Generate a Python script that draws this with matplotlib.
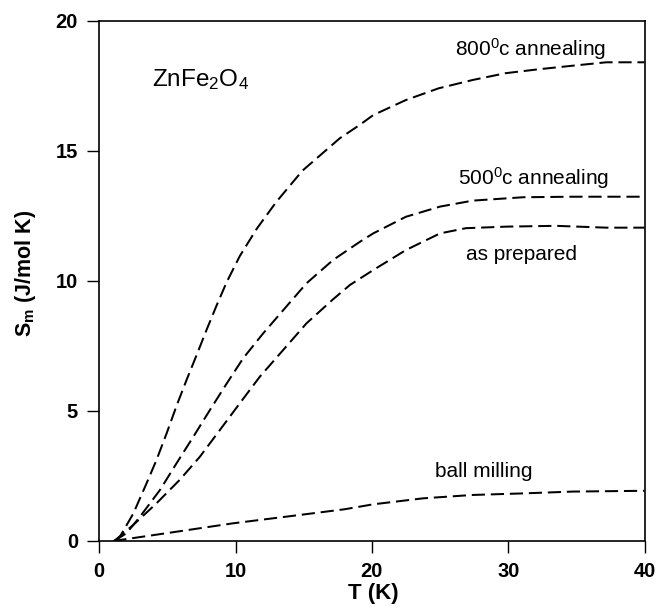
import matplotlib
matplotlib.use("Agg")
import matplotlib.pyplot as plt

plt.rcParams['font.family'] = ['Liberation Sans', 'DejaVu Sans']
plt.rcParams['mathtext.fontset'] = 'custom'
plt.rcParams['mathtext.rm'] = 'Liberation Sans'
plt.rcParams['mathtext.it'] = 'Liberation Sans:italic'
plt.rcParams['mathtext.bf'] = 'Liberation Sans:bold'
plt.rcParams['lines.scale_dashes'] = False

# ---- data ----
T_800 = [1.15, 1.52, 2.5, 3.47, 4.2, 4.94, 5.67, 6.4, 7.14, 7.87, 8.6, 9.34, 10.3,
         11.54, 13.0, 14.9, 17.65, 19.1, 20.1, 22.5, 24.9, 27.4, 29.8, 32.2, 34.75, 37.2, 40]
S_800 = [0, 0.17, 1.06, 2.22, 3.12, 4.14, 5.2, 6.19, 7.15, 8.12, 9.05, 9.95, 10.95,
         12.0, 13.05, 14.24, 15.49, 16.0, 16.38, 16.96, 17.41, 17.73, 17.99, 18.14, 18.28, 18.41, 18.41]

T_500 = [1.1, 2.0, 2.98, 4.45, 5.67, 6.9, 8.12, 9.34, 10.56, 12.0, 13.5, 15.2, 17.16,
         19.1, 20.1, 22.5, 25.0, 27.4, 31.1, 34.75, 40]
S_500 = [0, 0.3, 0.93, 1.96, 2.99, 4.01, 5.04, 6.05, 7.03, 7.97, 8.88, 9.91, 10.81,
         11.5, 11.83, 12.47, 12.86, 13.09, 13.22, 13.24, 13.24]

T_prep = [1.1, 2.5, 4.2, 5.9, 7.38, 8.85, 10.3, 11.78, 13.5, 15.2, 17.16, 18.4, 20.1,
          22.5, 25.0, 26.9, 29.9, 33.5, 37.2, 40]
S_prep = [0, 0.62, 1.45, 2.35, 3.24, 4.27, 5.29, 6.32, 7.35, 8.37, 9.3, 9.85, 10.42,
          11.19, 11.83, 12.03, 12.09, 12.12, 12.05, 12.05]

T_ball = [1.03, 4.94, 9.82, 14.7, 18.0, 20.1, 23.75, 27.4, 31.1, 34.75, 40]
S_ball = [0, 0.30, 0.68, 1.0, 1.22, 1.41, 1.64, 1.77, 1.83, 1.9, 1.93]

x_ticks = [0, 10, 20, 30, 40]
y_ticks = [0, 5, 10, 15, 20]

labels = [r'800$^{\mathrm{0}}$c annealing', r'500$^{\mathrm{0}}$c annealing',
          'as prepared', 'ball milling']
label_T = [26.1, 26.34, 26.9, 24.63]
label_S = [18.67, 13.69, 10.81, 2.47]

# ---- figure ----
fig = plt.figure(figsize=(6.58, 6.09), dpi=100)
ax = fig.add_axes([0.1509, 0.1117, 0.8286, 0.8539])

dash = (0, (9.5, 4.2))
for T, S in [(T_800, S_800), (T_500, S_500), (T_prep, S_prep), (T_ball, S_ball)]:
    ax.plot(T, S, color='black', lw=1.45, linestyle=dash, dash_capstyle='butt')

ax.set_xlim(0, 40)
ax.set_ylim(0, 20)
ax.set_xticks(x_ticks)
ax.set_yticks(y_ticks)
ax.tick_params(direction='out', length=8.4, width=1.0, pad=7,
               labelsize=14.5, top=False, right=False)
for lab in ax.get_xticklabels() + ax.get_yticklabels():
    lab.set_fontweight('bold')
for sp in ax.spines.values():
    sp.set_linewidth(1.2)

ax.set_xlabel('T (K)', fontsize=16, fontweight='bold')
ax.set_ylabel(r'S$_{\mathbf{m}}$ (J/mol K)', fontsize=15.5, fontweight='bold')
ax.xaxis.set_label_coords(0.503, -0.081)
ax.yaxis.set_label_coords(-0.112, 0.515)

for txt, tx, ty in zip(labels, label_T, label_S):
    ax.text(tx, ty, txt, fontsize=15, ha='left', va='baseline')

ax.text(3.84, 17.5, r'ZnFe$_{\mathrm{2}}$O$_{\mathrm{4}}$', fontsize=17.5,
        ha='left', va='baseline')

fig.savefig('out.png', dpi=100)
